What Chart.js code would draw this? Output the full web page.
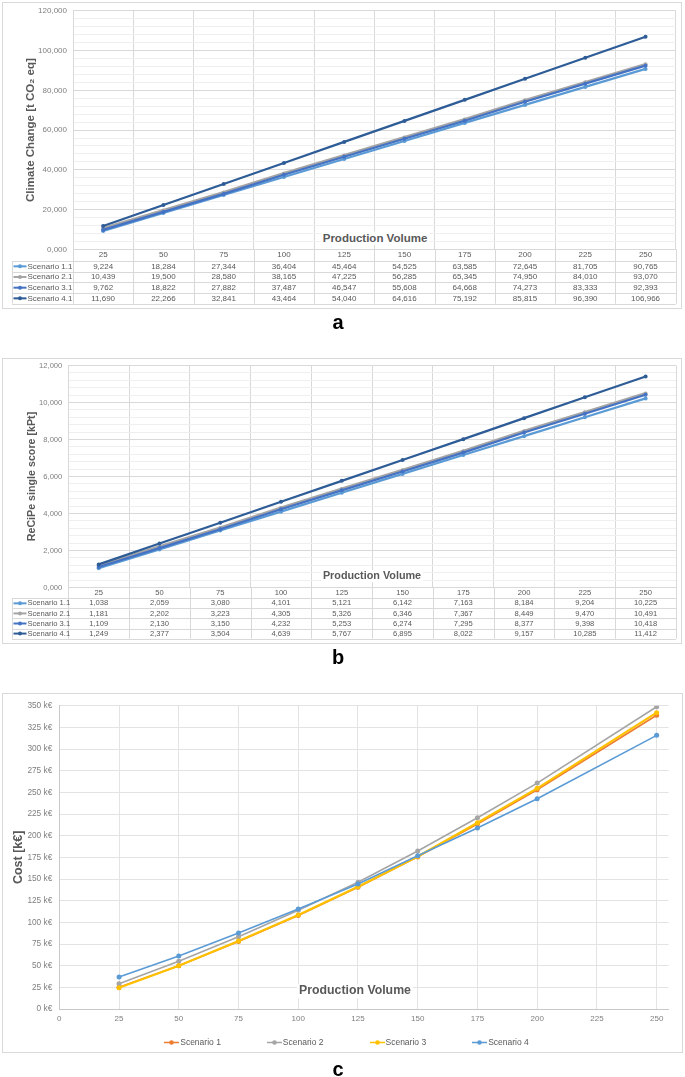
<!DOCTYPE html>
<html><head><meta charset="utf-8">
<script src="https://cdn.jsdelivr.net/npm/chart.js@4.4.1/dist/chart.umd.min.js"></script>
<style>
html,body{margin:0;padding:0;background:#fff;}
body{width:685px;height:1077px;position:relative;overflow:hidden;font-family:"Liberation Sans",Arial,sans-serif;}
.box{position:absolute;border:1px solid #d9d9d9;box-sizing:border-box;}
canvas{position:absolute;left:0;}
.pv{position:absolute;font-weight:bold;color:#595959;background:#fff;transform:translate(-50%,-50%);white-space:nowrap;padding:0 2px;line-height:1.1;}
.lab{position:absolute;font-weight:bold;font-size:20px;color:#000;transform:translate(-50%,-50%);line-height:1;}
#legC{position:absolute;top:1036px;left:4px;width:685px;display:flex;justify-content:center;gap:46px;font-size:8.5px;color:#595959;line-height:12px;}
#legC .li{display:flex;align-items:center;}
#legC svg{display:block;margin-right:1px;}
</style></head>
<body>
<div class="box" style="left:2px;top:2px;width:680px;height:307px;"></div>
<div class="box" style="left:2px;top:358px;width:680px;height:286px;"></div>
<div class="box" style="left:2px;top:693px;width:681px;height:360px;"></div>
<canvas id="ca" width="685" height="312" style="top:0px;"></canvas>
<canvas id="cb" width="685" height="292" style="top:355px;"></canvas>
<canvas id="cc" width="685" height="365" style="top:690px;"></canvas>
<div class="pv" style="left:375px;top:238px;font-size:11.5px;">Production Volume</div>
<div class="pv" style="left:372px;top:576px;font-size:10.8px;">Production Volume</div>
<div class="pv" style="left:355px;top:991px;font-size:12.3px;">Production Volume</div>
<div class="lab" style="left:338px;top:322px;">a</div>
<div class="lab" style="left:338px;top:657px;">b</div>
<div class="lab" style="left:338px;top:1069px;">c</div>
<div id="legC"></div>
<script>
// ---------- data ----------
const xLabels = ['25','50','75','100','125','150','175','200','225','250'];
const seriesNamesAB = ['Scenario 1.1','Scenario 2.1','Scenario 3.1','Scenario 4.1'];

const climateS11 = [9224,18284,27344,36404,45464,54525,63585,72645,81705,90765];
const climateS21 = [10439,19500,28580,38165,47225,56285,65345,74950,84010,93070];
const climateS31 = [9762,18822,27882,37487,46547,55608,64668,74273,83333,92393];
const climateS41 = [11690,22266,32841,43464,54040,64616,75192,85815,96390,106966];
const yTicksA = ['0,000','20,000','40,000','60,000','80,000','100,000','120,000'];

const recipeS11 = [1038,2059,3080,4101,5121,6142,7163,8184,9204,10225];
const recipeS21 = [1181,2202,3223,4305,5326,6346,7367,8449,9470,10491];
const recipeS31 = [1109,2130,3150,4232,5253,6274,7295,8377,9398,10418];
const recipeS41 = [1249,2377,3504,4639,5767,6895,8022,9157,10285,11412];
const yTicksB = ['0,000','2,000','4,000','6,000','8,000','10,000','12,000'];

const seriesNamesC = ['Scenario 1','Scenario 2','Scenario 3','Scenario 4'];
const volumeC = [25,50,75,100,125,150,175,200,250];
const costS1 = [25.0,50.0,78.0,108.0,140.5,175.5,213.5,253.0,339.0];
const costS2 = [29.2,55.0,83.4,113.9,146.2,182.3,220.7,260.7,348.8];
const costS3 = [24.5,49.8,78.5,108.5,141.0,176.0,215.0,254.6,342.0];
const costS4 = [36.9,61.1,87.7,115.4,144.2,176.9,208.8,242.6,315.8];
const xTicksC = [0,25,50,75,100,125,150,175,200,225,250];
const yTicksC = ['0 k€','25 k€','50 k€','75 k€','100 k€','125 k€','150 k€','175 k€','200 k€','225 k€','250 k€','275 k€','300 k€','325 k€','350 k€'];

// ---------- styles ----------
const FONT = '"Liberation Sans", Arial, sans-serif';
const colorsAB = ['#5B9BD5','#A5A5A5','#4472C4','#2E5C96'];
const colorsC = ['#ED7D31','#A5A5A5','#FFC000','#5B9BD5'];

const px = v => Math.round(v) + 0.5;

const tablePlugin = {
  id: 'dataTable',
  afterDraw(chart, args, opts) {
    const ctx = chart.ctx, xs = chart.scales.x;
    const n = chart.data.labels.length;
    const colW = (xs.right - xs.left) / n;
    const ds = chart.data.datasets;
    const rows = ds.length;
    const bottom = opts.rowTop + rows * opts.rowH;
    ctx.save();
    ctx.strokeStyle = '#d9d9d9';
    ctx.lineWidth = 1;
    ctx.beginPath();
    for (let k = 0; k <= rows; k++) {
      const y = px(opts.rowTop + k * opts.rowH);
      ctx.moveTo(opts.left, y); ctx.lineTo(xs.right, y);
    }
    ctx.moveTo(px(opts.left), opts.rowTop); ctx.lineTo(px(opts.left), bottom);
    for (let j = 0; j <= n; j++) {
      const x = px(xs.left + j * colW);
      ctx.moveTo(x, chart.chartArea.bottom); ctx.lineTo(x, bottom);
    }
    ctx.stroke();
    ctx.font = opts.fontSize + 'px ' + FONT;
    ctx.fillStyle = '#595959';
    ctx.textBaseline = 'middle';
    ds.forEach((d, i) => {
      const yc = opts.rowTop + (i + 0.5) * opts.rowH;
      ctx.textAlign = 'center';
      d.data.forEach((v, j) => ctx.fillText(v.toLocaleString('en-US'), xs.getPixelForValue(j), yc));
      // legend key
      ctx.strokeStyle = d.borderColor; ctx.lineWidth = 2;
      ctx.beginPath(); ctx.moveTo(opts.left + 1.5, yc); ctx.lineTo(opts.left + 14.5, yc); ctx.stroke();
      ctx.fillStyle = d.borderColor;
      ctx.beginPath(); ctx.arc(opts.left + 8, yc, 2, 0, Math.PI * 2); ctx.fill();
      ctx.fillStyle = '#595959';
      ctx.textAlign = 'left';
      ctx.fillText(d.label, opts.left + 15.5, yc);
    });
    ctx.restore();
  }
};

function makeAB(id, series, cfg) {
  return new Chart(document.getElementById(id), {
    type: 'line',
    data: {
      labels: xLabels,
      datasets: series.map((d, i) => ({
        label: seriesNamesAB[i], data: d,
        borderColor: colorsAB[i], backgroundColor: colorsAB[i],
        borderWidth: i === 1 ? 3 : 2.2, pointRadius: 2, pointHoverRadius: 2,
        pointBackgroundColor: colorsAB[i], pointBorderWidth: 0,
        tension: 0, order: 3 - i
      }))
    },
    options: {
      responsive: false, animation: false, events: [],
      layout: { padding: { top: cfg.top, right: cfg.right, left: 0, bottom: 0 } },
      plugins: { legend: { display: false }, tooltip: { enabled: false }, dataTable: cfg.table },
      scales: {
        x: {
          type: 'category', offset: true,
          grid: { offset: true, color: '#d9d9d9', drawTicks: false },
          border: { color: '#d9d9d9' },
          ticks: { font: { size: cfg.fs, family: FONT }, color: '#595959', padding: 1, maxRotation: 0, autoSkip: false },
          afterFit: s => { s.height = cfg.xh; }
        },
        y: {
          min: 0, max: cfg.max,
          ticks: { stepSize: cfg.minor, autoSkip: false, font: { size: cfg.fs, family: FONT }, color: '#7f7f7f', padding: 6,
            callback: v => (v % cfg.major === 0 ? cfg.labels[Math.round(v / cfg.major)] : '') },
          grid: { drawTicks: false, color: c => (c.tick && c.tick.value % cfg.major === 0 ? '#d9d9d9' : '#efefef') },
          border: { color: '#d9d9d9' },
          title: { display: true, text: cfg.title, color: '#595959', font: { size: cfg.tfs, weight: 'bold', family: FONT }, padding: { top: cfg.tpad, bottom: 0 } },
          afterFit: s => { s.width = cfg.yw; }
        }
      }
    },
    plugins: [tablePlugin]
  });
}

makeAB('ca', [climateS11, climateS21, climateS31, climateS41], {
  top: 9.3, right: 9.3, xh: 62.7, yw: 73, max: 120000, minor: 4000, major: 20000,
  labels: yTicksA, fs: 8, title: 'Climate Change [t CO\u2082 eq]', tfs: 11.5, tpad: 23.6,
  table: { rowTop: 261, rowH: 10.67, left: 12, fontSize: 8 }
});

makeAB('cb', [recipeS11, recipeS21, recipeS31, recipeS41], {
  top: 10, right: 9, xh: 59.5, yw: 68.3, max: 12000, minor: 400, major: 2000,
  labels: yTicksB, fs: 7.6, title: 'ReCiPe single score [kPt]', tfs: 10.7, tpad: 25.9,
  table: { rowTop: 243.3, rowH: 10.08, left: 12, fontSize: 7.6 }
});

const costSeries = [costS1, costS2, costS3, costS4];
const chartC = new Chart(document.getElementById('cc'), {
  type: 'line',
  data: {
    datasets: costSeries.map((d, i) => ({
      label: seriesNamesC[i],
      data: d.map((v, j) => ({ x: volumeC[j], y: v })),
      borderColor: colorsC[i], backgroundColor: colorsC[i],
      borderWidth: i === 2 ? 2.2 : 1.6, pointRadius: 2.5, pointHoverRadius: 2.5,
      pointBackgroundColor: colorsC[i], pointBorderWidth: 0, tension: 0, order: 3 - i
    }))
  },
  options: {
    responsive: false, animation: false, events: [],
    layout: { padding: { top: 15.7, right: 16.4, left: 0, bottom: 0 } },
    plugins: { legend: { display: false }, tooltip: { enabled: false } },
    scales: {
      x: {
        type: 'linear', min: 0, max: 255,
        ticks: { stepSize: 25, font: { size: 8, family: FONT }, color: '#7f7f7f', padding: 5, maxRotation: 0, autoSkip: false },
        afterBuildTicks: s => { s.ticks = xTicksC.map(v => ({ value: v })); },
        grid: { color: '#e3e3e3', drawTicks: false },
        border: { color: '#c8c8c8' },
        afterFit: s => { s.height = 46; }
      },
      y: {
        min: 0, max: 350,
        ticks: { stepSize: 25, autoSkip: false, font: { size: 8.3, family: FONT }, color: '#7f7f7f', padding: 7,
          callback: v => yTicksC[Math.round(v / 25)] },
        grid: { color: '#e3e3e3', drawTicks: false },
        border: { color: '#c8c8c8' },
        title: { display: true, text: 'Cost [k€]', color: '#595959', font: { size: 12.5, weight: 'bold', family: FONT }, padding: { top: 11.2, bottom: 0 } },
        afterFit: s => { s.width = 59.3; }
      }
    }
  }
});

// HTML legend for chart c, built from the chart's datasets
const leg = document.getElementById('legC');
chartC.data.datasets.forEach(d => {
  const item = document.createElement('span');
  item.className = 'li';
  item.innerHTML = '<svg width="15" height="7"><line x1="0" y1="3.5" x2="15" y2="3.5" stroke="' + d.borderColor +
    '" stroke-width="1.5"/><circle cx="7.5" cy="3.5" r="2.3" fill="' + d.borderColor + '"/></svg>';
  const t = document.createElement('span');
  t.textContent = d.label;
  item.appendChild(t);
  leg.appendChild(item);
});
</script>
</body></html>
